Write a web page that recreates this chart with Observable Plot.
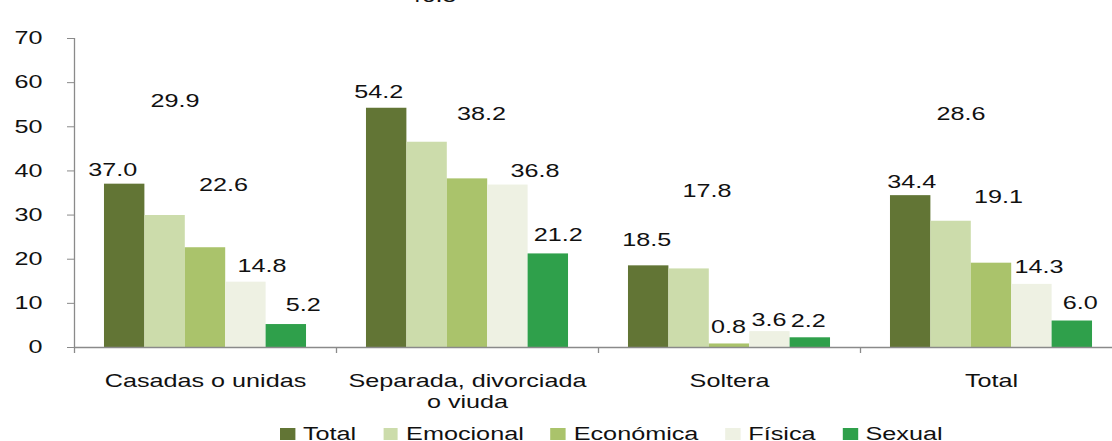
<!DOCTYPE html>
<html>
<head>
<meta charset="utf-8">
<script src="https://cdn.jsdelivr.net/npm/d3@7"></script>
<script src="https://cdn.jsdelivr.net/npm/@observablehq/plot@0.6"></script>
<style>
  html, body { margin: 0; padding: 0; background: #fff; overflow: hidden; }
  #chart svg { display: block; max-width: none !important; }
  #legend { padding-left: 280px; height: 20px; white-space: nowrap; }
  #legend .inner { display: inline-block; transform: scaleX(1.4); transform-origin: 0 0;
    font: 18px "Liberation Sans", Arial, sans-serif; line-height: 20px; color: #111; }
  #legend .sw { display: inline-block; width: 10.7px; height: 12px; margin-right: 5.7px; vertical-align: baseline; }
  #legend .item { margin-right: 19.3px; }
</style>
</head>
<body>
<div id="chart"></div>
<div id="legend"><div class="inner"></div></div>
<script>
// ---- data ----
const categories = ["Casadas o unidas", "Separada, divorciada o viuda", "Soltera", "Total"];
const categoryLine1 = ["Casadas o unidas", "Separada, divorciada", "Soltera", "Total"];
const categoryLine2 = ["", "o viuda", "", ""];
const series = ["Total", "Emocional", "Económica", "Física", "Sexual"];
const totalValues     = [37.0, 54.2, 18.5, 34.4];
const emocionalValues = [29.9, 46.5, 17.8, 28.6];
const economicaValues = [22.6, 38.2, 0.8, 19.1];
const fisicaValues    = [14.8, 36.8, 3.6, 14.3];
const sexualValues    = [5.2, 21.2, 2.2, 6.0];
const yTicks = [0, 10, 20, 30, 40, 50, 60, 70];

// ---- style ----
const seriesColors = ["#627535", "#ccdcab", "#aac36b", "#eef1e3", "#2fa04b"];
const axisColor = "#8a8a8a";
// label nudges (pixels) reproducing the hand-placed labels of the original
const labelDx = {
  "Total": [-12, -8, -2, 1], "Emocional": [10, 5, 18, 10], "Económica": [18, 14, -1, 7],
  "Física": [16, 27, -1, 7], "Sexual": [17, 10, -2, 8]
};
const labelRise = {
  "Total": [8, 10, 20, 8], "Emocional": [109, 140, 72, 101], "Económica": [57, 59, 11, 60],
  "Física": [10, 8, 6, 11], "Sexual": [14, 13, 11, 12]
};
const stretch = 1.4;   // the original picture is stretched horizontally
const pad = 0.742;     // outer padding (in bar widths) inside each group

const valuesBySeries = {
  "Total": totalValues, "Emocional": emocionalValues, "Económica": economicaValues,
  "Física": fisicaValues, "Sexual": sexualValues
};
const rows = categories.flatMap((c, ci) =>
  series.map((s, si) => ({ category: c, ci, series: s, si, value: valuesBySeries[s][ci] })));

const labelMarks = rows.map(r => Plot.text([r], {
  fx: "category", x: d => d.si + 0.5, y: "value",
  text: d => d.value.toFixed(1), lineAnchor: "bottom",
  dx: labelDx[r.series][r.ci], dy: -labelRise[r.series][r.ci],
  fontSize: 18, fill: "#111"
}));

const chart = Plot.plot({
  width: 1122, height: 424,
  marginLeft: 74, marginRight: 0, marginTop: 38, marginBottom: 77,
  style: { fontFamily: "'Liberation Sans', Arial, sans-serif", fontSize: "18px", color: "#111", background: "#fff" },
  fx: { domain: categories, padding: 0 },
  x: { domain: [-pad, series.length + pad], axis: null },
  y: { domain: [0, d3.max(yTicks)] },
  color: { domain: series, range: seriesColors },
  marks: [
    Plot.rectY(rows, { fx: "category", x1: d => d.si, x2: d => d.si + 1, y1: 0, y2: "value", fill: "series" }),
    Plot.ruleY([0], { stroke: axisColor, strokeWidth: 1.3 }),
    Plot.ruleX(categories, { fx: d => d, x: -pad, y1: 0, y2: -1.36, stroke: axisColor, strokeWidth: 1.3 }),
    Plot.ruleX([categories[0]], { fx: d => d, x: -pad, y1: 0, y2: d3.max(yTicks), stroke: axisColor, strokeWidth: 1.3 }),
    Plot.axisY({ ticks: yTicks, tickSize: 7, tickPadding: 25, stroke: axisColor, fontSize: 18, label: null, tickFormat: d => String(d) }),
    Plot.axisFx({ anchor: "bottom", tickSize: 0, tickPadding: 27, fontSize: 18, label: null,
      tickFormat: d => categoryLine1[categories.indexOf(d)] }),
    Plot.axisFx({ anchor: "bottom", tickSize: 0, tickPadding: 48, fontSize: 18, label: null,
      tickFormat: d => categoryLine2[categories.indexOf(d)] }),
    ...labelMarks
  ]
});

// stretch every text horizontally around its own anchor, like the original
chart.querySelectorAll("text").forEach(t => {
  const tr = t.getAttribute("transform");
  if (tr) t.setAttribute("transform", tr + ` scale(${stretch},1)`);
  else {
    const x = +t.getAttribute("x") || 0, y = +t.getAttribute("y") || 0;
    t.setAttribute("x", 0); t.setAttribute("y", 0);
    t.setAttribute("transform", `translate(${x},${y}) scale(${stretch},1)`);
  }
});
document.getElementById("chart").appendChild(chart);

// make sure the group names sit centred under their group (anchor point = group centre)
chart.querySelectorAll('g[aria-label^="fx-axis"] text').forEach(t => {
  if (!t.textContent) return;
  t.setAttribute("text-anchor", "middle");
  const svgRect = chart.getBoundingClientRect();
  const ctm = t.getCTM();
  const anchorX = svgRect.left + ctm.e;
  const r = t.getBoundingClientRect();
  const shift = anchorX - (r.left + r.width / 2);
  if (Math.abs(shift) > 1) t.setAttribute("transform", t.getAttribute("transform") + ` translate(${shift / stretch},0)`);
});

// legend
const inner = document.querySelector("#legend .inner");
series.forEach((s, i) => {
  const item = document.createElement("span");
  item.className = "item";
  const sw = document.createElement("span");
  sw.className = "sw"; sw.style.background = seriesColors[i];
  item.appendChild(sw);
  item.appendChild(document.createTextNode(s));
  inner.appendChild(item);
});
</script>
</body>
</html>
